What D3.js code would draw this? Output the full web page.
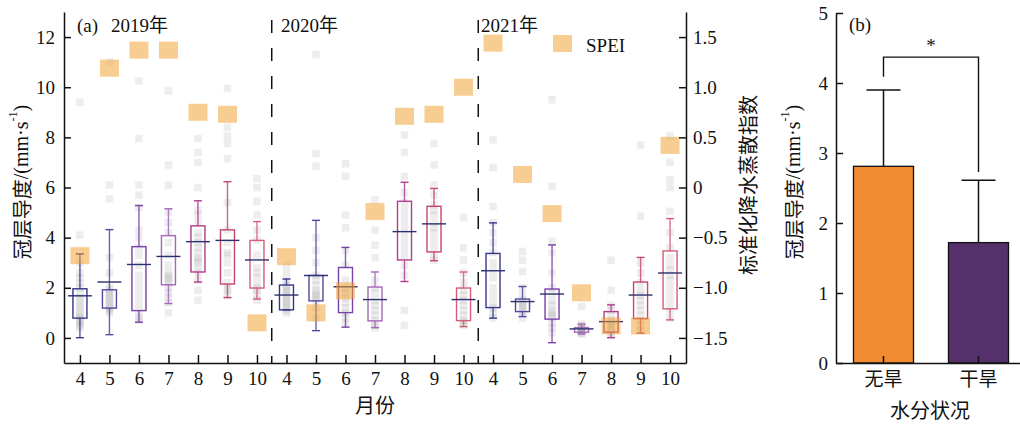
<!DOCTYPE html>
<html>
<head>
<meta charset="utf-8">
<script src="https://cdn.jsdelivr.net/npm/d3@7"></script>
<style>
  body { margin: 0; background: #fff; }
  text { font-family: "Liberation Serif", "Times New Roman", "Noto Sans CJK SC", serif; fill: #111; }
  .cjk { font-family: "Noto Sans CJK SC", "Liberation Serif", sans-serif; }
</style>
</head>
<body>
<svg id="chart" width="1020" height="424"></svg>
<script>
// months shown for every year
const months = [4, 5, 6, 7, 8, 9, 10]
const yearLabels = ['2019年', '2020年', '2021年']

// SPEI per month
const spei2019 = [-0.68, 1.19, 1.37, 1.37, 0.75, 0.73, -1.35]
const spei2020 = [-0.69, -1.25, -1.03, -0.24, 0.71, 0.73, 1.0]
const spei2021 = [1.44, 0.13, -0.26, -1.05, -1.38, -1.38, 0.42]

// box stats per month: [low whisker, q1, mean, q3, high whisker]
const box2019 = [
  [0.01, 0.79, 1.68, 1.96, 3.35],
  [0.13, 1.19, 2.23, 1.92, 4.32],
  [0.63, 1.09, 2.93, 3.64, 5.28],
  [1.37, 2.12, 3.25, 4.08, 5.15],
  [2.23, 2.63, 3.84, 4.47, 5.47],
  [1.61, 2.15, 3.89, 4.31, 6.23],
  [1.55, 1.99, 3.11, 3.89, 4.64]
]
const box2020 = [
  [1.12, 1.12, 1.71, 2.11, 2.35],
  [0.29, 1.48, 2.49, 2.49, 4.69],
  [0.43, 1.01, 2.04, 2.81, 3.61],
  [0.41, 0.68, 1.53, 2.03, 2.63],
  [2.25, 3.11, 4.24, 5.45, 6.21],
  [3.08, 3.43, 4.55, 5.25, 5.96],
  [0.45, 0.69, 1.53, 1.99, 2.63]
]
const box2021 = [
  [0.79, 1.21, 2.68, 3.37, 4.59],
  [0.85, 1.05, 1.45, 1.55, 2.05],
  [-0.19, 0.75, 1.75, 1.95, 3.71],
  [0.16, 0.23, 0.36, 0.41, 0.55],
  [0.01, 0.23, 0.65, 1.05, 1.32],
  [0.19, 0.77, 1.71, 2.23, 3.21],
  [0.72, 1.16, 2.59, 3.47, 4.76]
]

// individual canopy conductance observations
const pts2019 = [
  [9.4, 4.1, 3.0, 2.6, 2.4, 2.2, 2.0, 1.8, 1.6, 1.5, 1.3, 1.2, 1.0, 0.9, 0.8, 0.7, 0.6, 0.5, 0.4],
  [11.0, 6.1, 5.55, 3.2, 2.6, 2.0, 1.9, 1.8, 1.7, 1.6, 1.5, 1.4, 1.3, 1.2, 1.1, 1.0],
  [10.25, 7.95, 6.1, 5.7, 5.2, 4.3, 4.0, 3.6, 3.3, 2.9, 2.5, 2.2, 1.9, 1.6, 1.3, 1.0, 0.8, 0.7],
  [9.85, 6.9, 6.1, 5.0, 4.6, 4.2, 3.8, 3.3, 2.9, 2.6, 2.5, 2.4, 2.3, 2.2, 2.0, 1.8, 1.6, 1.4, 1.0],
  [7.95, 7.4, 7.0, 6.0, 5.1, 4.9, 4.6, 4.2, 4.0, 3.8, 3.6, 3.4, 3.2, 3.1, 3.0, 2.8, 2.6, 2.3, 1.9, 1.5],
  [9.95, 8.4, 8.05, 7.75, 7.15, 5.4, 4.3, 3.8, 3.4, 3.3, 3.0, 2.6, 2.2, 2.0, 1.9, 1.7],
  [6.35, 6.0, 5.45, 4.9, 4.3, 3.9, 3.3, 2.8, 2.6, 2.4, 2.1, 2.0, 1.9, 1.7, 1.5]
]
const pts2020 = [
  [2.9, 2.6, 2.3, 2.1, 2.0, 1.9, 1.8, 1.7, 1.6, 1.5, 1.4, 1.3, 1.2, 1.1, 1.0],
  [11.3, 7.35, 6.85, 4.0, 3.5, 3.0, 2.5, 2.3, 2.1, 1.9, 1.8, 1.7, 1.6, 1.5, 1.2, 0.8],
  [6.95, 6.45, 4.9, 4.4, 3.5, 2.9, 2.3, 2.0, 1.8, 1.6, 1.4, 1.2, 1.0, 0.8, 0.6],
  [5.5, 4.3, 3.7, 3.2, 2.3, 2.0, 1.8, 1.5, 1.3, 1.1, 0.9, 0.7, 0.5, 0.4],
  [8.1, 7.4, 6.45, 5.8, 5.4, 5.1, 4.8, 4.5, 4.2, 3.9, 3.6, 3.3, 2.9, 2.5, 1.1, 0.5],
  [7.75, 6.9, 6.1, 5.7, 5.3, 5.1, 4.9, 4.6, 4.4, 4.2, 3.9, 3.6, 3.3, 3.1],
  [4.8, 3.6, 3.1, 2.6, 2.2, 1.9, 1.7, 1.5, 1.3, 1.1, 0.9, 0.7, 0.6, 0.5]
]
const pts2021 = [
  [7.9, 6.8, 5.25, 4.6, 4.2, 3.8, 3.4, 3.0, 2.7, 2.4, 2.0, 1.7, 1.4, 1.2, 1.0, 0.8],
  [3.45, 3.1, 2.65, 2.0, 1.7, 1.5, 1.4, 1.3, 1.2, 1.1, 1.0, 0.8],
  [9.5, 6.05, 3.85, 3.4, 2.6, 2.0, 1.8, 1.5, 1.3, 1.1, 1.0, 0.9, 0.8, 0.6, 0.4, 0.2],
  [1.25, 0.55, 0.5, 0.45, 0.4, 0.35, 0.3, 0.3, 0.25, 0.2, 0.15],
  [3.1, 1.9, 1.3, 1.1, 0.9, 0.7, 0.6, 0.5, 0.4, 0.3, 0.2, 0.1],
  [7.7, 4.85, 3.0, 2.6, 2.2, 1.9, 1.7, 1.5, 1.3, 1.1, 0.9, 0.7, 0.5, 0.3],
  [8.05, 7.0, 6.3, 6.0, 5.05, 4.2, 3.6, 3.2, 2.9, 2.7, 2.5, 2.3, 2.0, 1.7, 1.4, 1.1, 0.8]
]

// panel (b)
const droughtCats = ['无旱', '干旱']
const gcMean = [2.81, 1.72]
const gcSd = [1.09, 0.89]

const monthColors = ['#35388a', '#51489f', '#7840a8', '#a566b8', '#b03c8c', '#c8456c', '#d65c78']
const meanColor = '#2c2f6e'
const speiColor = '#f0a030'

function chart () {
  const svg = d3.select('#chart')

  // flatten the three years into 21 slots
  const years = [
    { spei: spei2019, box: box2019, pts: pts2019 },
    { spei: spei2020, box: box2020, pts: pts2020 },
    { spei: spei2021, box: box2021, pts: pts2021 }
  ]
  const slots = []
  years.forEach((y, yi) => {
    months.forEach((m, mi) => {
      slots.push({ key: yi * 7 + mi, month: m, mi, spei: y.spei[mi], box: y.box[mi], pts: y.pts[mi] })
    })
  })

  const x = d3.scalePoint().domain(slots.map(d => d.key)).range([64, 686]).padding(0.54)
  const y = d3.scaleLinear().domain([-1, 13]).range([363, 12])
  const yR = d3.scaleLinear().domain([-1.75, 1.75]).range([363, 12])

  const a = svg.append('g')

  // gray observations
  a.append('g')
    .selectAll('g')
    .data(slots)
    .enter()
    .append('g')
    .selectAll('rect')
    .data(d => d.pts.map(v => ({ key: d.key, v })))
    .enter()
    .append('rect')
    .attr('x', d => x(d.key) - 3.75)
    .attr('y', d => y(d.v) - 3.75)
    .attr('width', 7.5)
    .attr('height', 7.5)
    .attr('fill', '#8c8c8c')
    .attr('fill-opacity', 0.16)

  // boxes
  const bx = a.append('g')
    .selectAll('g')
    .data(slots)
    .enter()
    .append('g')
    .attr('stroke-width', 1.4)
    .attr('fill', 'none')
  bx.append('line')
    .attr('x1', d => x(d.key)).attr('x2', d => x(d.key))
    .attr('y1', d => y(d.box[4])).attr('y2', d => y(d.box[3]))
    .attr('stroke', d => monthColors[d.mi]).attr('stroke-opacity', 0.85)
  bx.append('line')
    .attr('x1', d => x(d.key)).attr('x2', d => x(d.key))
    .attr('y1', d => y(d.box[1])).attr('y2', d => y(d.box[0]))
    .attr('stroke', d => monthColors[d.mi]).attr('stroke-opacity', 0.85)
  bx.append('line')
    .attr('x1', d => x(d.key) - 4).attr('x2', d => x(d.key) + 4)
    .attr('y1', d => y(d.box[4])).attr('y2', d => y(d.box[4]))
    .attr('stroke', d => monthColors[d.mi])
  bx.append('line')
    .attr('x1', d => x(d.key) - 4).attr('x2', d => x(d.key) + 4)
    .attr('y1', d => y(d.box[0])).attr('y2', d => y(d.box[0]))
    .attr('stroke', d => monthColors[d.mi])
  bx.append('rect')
    .attr('x', d => x(d.key) - 7)
    .attr('width', 14)
    .attr('y', d => y(d.box[3]))
    .attr('height', d => y(d.box[1]) - y(d.box[3]))
    .attr('stroke', d => monthColors[d.mi])
  bx.append('line')
    .attr('x1', d => x(d.key) - 12).attr('x2', d => x(d.key) + 12)
    .attr('y1', d => y(d.box[2])).attr('y2', d => y(d.box[2]))
    .attr('stroke', meanColor)

  // SPEI squares
  a.append('g')
    .selectAll('rect')
    .data(slots)
    .enter()
    .append('rect')
    .attr('x', d => x(d.key) - 9.5)
    .attr('y', d => yR(d.spei) - 8.5)
    .attr('width', 19)
    .attr('height', 17)
    .attr('fill', speiColor)
    .attr('fill-opacity', 0.53)

  // year separators
  const step = x.step()
  a.append('g')
    .selectAll('line')
    .data([7, 14])
    .enter()
    .append('line')
    .attr('x1', d => x(d) - step / 2).attr('x2', d => x(d) - step / 2)
    .attr('y1', 20).attr('y2', 363)
    .attr('stroke', '#111')
    .attr('stroke-width', 1.5)
    .attr('stroke-dasharray', '13,15')

  // axes
  const axL = a.append('g')
    .attr('transform', 'translate(64,0)')
    .call(d3.axisLeft(y).tickValues([0, 2, 4, 6, 8, 10, 12]).tickSizeInner(-7).tickSizeOuter(0).tickPadding(9))
  const axR = a.append('g')
    .attr('transform', 'translate(686,0)')
    .call(d3.axisRight(yR).tickValues([-1.5, -1, -0.5, 0, 0.5, 1, 1.5])
      .tickFormat(d => d === 0 ? '0' : d3.format('.1f')(d))
      .tickSizeInner(-7).tickSizeOuter(0).tickPadding(7))
  const axB = a.append('g')
    .attr('transform', 'translate(0,363)')
    .call(d3.axisBottom(x).tickFormat(k => slots[k].month).tickSizeInner(-8).tickSizeOuter(0).tickPadding(9))
  ;[axL, axR, axB].forEach(g => {
    g.selectAll('path, line').attr('stroke', '#111').attr('stroke-width', 1.5)
    g.selectAll('text').attr('font-size', 19).attr('fill', '#111')
      .style('font-family', '"Liberation Serif", serif')
  })

  // panel labels
  a.append('text').attr('x', 77).attr('y', 32).attr('font-size', 19).text('(a)')
  const yearX = [111, 281, 481]
  a.append('g')
    .selectAll('text')
    .data(yearLabels)
    .enter()
    .append('text')
    .attr('x', (d, i) => yearX[i])
    .attr('y', 32)
    .attr('font-size', 19)
    .text(d => d)

  // legend
  a.append('rect').attr('x', 553).attr('y', 35).attr('width', 19).attr('height', 17)
    .attr('fill', speiColor).attr('fill-opacity', 0.53)
  a.append('text').attr('x', 586).attr('y', 52).attr('font-size', 19).text('SPEI')

  // axis titles
  const yt = a.append('text')
    .attr('transform', 'translate(21,182) rotate(-90)')
    .attr('text-anchor', 'middle')
    .attr('dominant-baseline', 'central')
    .attr('font-size', 20)
  yt.append('tspan').attr('class', 'cjk').text('冠层导度')
  yt.append('tspan').text('/(mm·s')
  yt.append('tspan').attr('font-size', 12).attr('dy', -8).text('-1')
  yt.append('tspan').attr('dy', 8).text(')')

  a.append('text')
    .attr('class', 'cjk')
    .attr('transform', 'translate(747,185) rotate(-90)')
    .attr('text-anchor', 'middle')
    .attr('dominant-baseline', 'central')
    .attr('font-size', 20)
    .text('标准化降水蒸散指数')
  a.append('text')
    .attr('class', 'cjk')
    .attr('x', 375).attr('y', 413)
    .attr('text-anchor', 'middle')
    .attr('font-size', 20)
    .text('月份')

  // panel (b)
  const b = svg.append('g')
  const xb = d3.scaleBand().domain(droughtCats).range([836, 1026]).paddingInner(0.368).paddingOuter(0.184)
  const yb = d3.scaleLinear().domain([0, 5]).range([363, 13])
  const barColors = ['#f28a33', '#56306a']

  const eb = b.append('g')
    .selectAll('g')
    .data(droughtCats)
    .enter()
    .append('g')
  eb.append('line')
    .attr('x1', d => xb(d) + xb.bandwidth() / 2).attr('x2', d => xb(d) + xb.bandwidth() / 2)
    .attr('y1', (d, i) => yb(gcMean[i])).attr('y2', (d, i) => yb(gcMean[i] + gcSd[i]))
    .attr('stroke', '#111').attr('stroke-width', 1.5)
  eb.append('line')
    .attr('x1', d => xb(d) + xb.bandwidth() / 2 - 17).attr('x2', d => xb(d) + xb.bandwidth() / 2 + 17)
    .attr('y1', (d, i) => yb(gcMean[i] + gcSd[i])).attr('y2', (d, i) => yb(gcMean[i] + gcSd[i]))
    .attr('stroke', '#111').attr('stroke-width', 1.5)
  b.append('g')
    .selectAll('rect')
    .data(droughtCats)
    .enter()
    .append('rect')
    .attr('x', d => xb(d))
    .attr('width', xb.bandwidth())
    .attr('y', (d, i) => yb(gcMean[i]))
    .attr('height', (d, i) => yb(0) - yb(gcMean[i]))
    .attr('fill', (d, i) => barColors[i])
    .attr('stroke', '#111')
    .attr('stroke-width', 1.3)

  // significance bracket
  const c0 = xb(droughtCats[0]) + xb.bandwidth() / 2
  const c1 = xb(droughtCats[1]) + xb.bandwidth() / 2
  b.append('path')
    .attr('d', `M${c0},${yb(4.09)}V${yb(4.37)}H${c1}V${yb(2.73)}`)
    .attr('fill', 'none').attr('stroke', '#111').attr('stroke-width', 1.4)
  b.append('text').attr('x', (c0 + c1) / 2).attr('y', 52).attr('text-anchor', 'middle')
    .attr('font-size', 19).text('*')

  const bL = b.append('g')
    .attr('transform', 'translate(836,0)')
    .call(d3.axisLeft(yb).ticks(5).tickSizeInner(-7).tickSizeOuter(0).tickPadding(8))
  const bB = b.append('g')
    .attr('transform', 'translate(0,363)')
    .call(d3.axisBottom(xb).tickSizeInner(-7).tickSizeOuter(0).tickPadding(10))
  ;[bL, bB].forEach(g => {
    g.selectAll('path, line').attr('stroke', '#111').attr('stroke-width', 1.5)
    g.selectAll('text').attr('font-size', 19).attr('fill', '#111')
  })
  bL.selectAll('text').style('font-family', '"Liberation Serif", serif')
  bB.selectAll('text').style('font-family', '"Noto Sans CJK SC", sans-serif')

  b.append('text').attr('x', 849).attr('y', 31).attr('font-size', 19).text('(b)')
  const byt = b.append('text')
    .attr('transform', 'translate(793,182) rotate(-90)')
    .attr('text-anchor', 'middle')
    .attr('dominant-baseline', 'central')
    .attr('font-size', 20)
  byt.append('tspan').attr('class', 'cjk').text('冠层导度')
  byt.append('tspan').text('/(mm·s')
  byt.append('tspan').attr('font-size', 12).attr('dy', -8).text('-1')
  byt.append('tspan').attr('dy', 8).text(')')
  b.append('text')
    .attr('class', 'cjk')
    .attr('x', 930).attr('y', 418)
    .attr('text-anchor', 'middle')
    .attr('font-size', 20)
    .text('水分状况')
}

chart()
</script>
</body>
</html>
